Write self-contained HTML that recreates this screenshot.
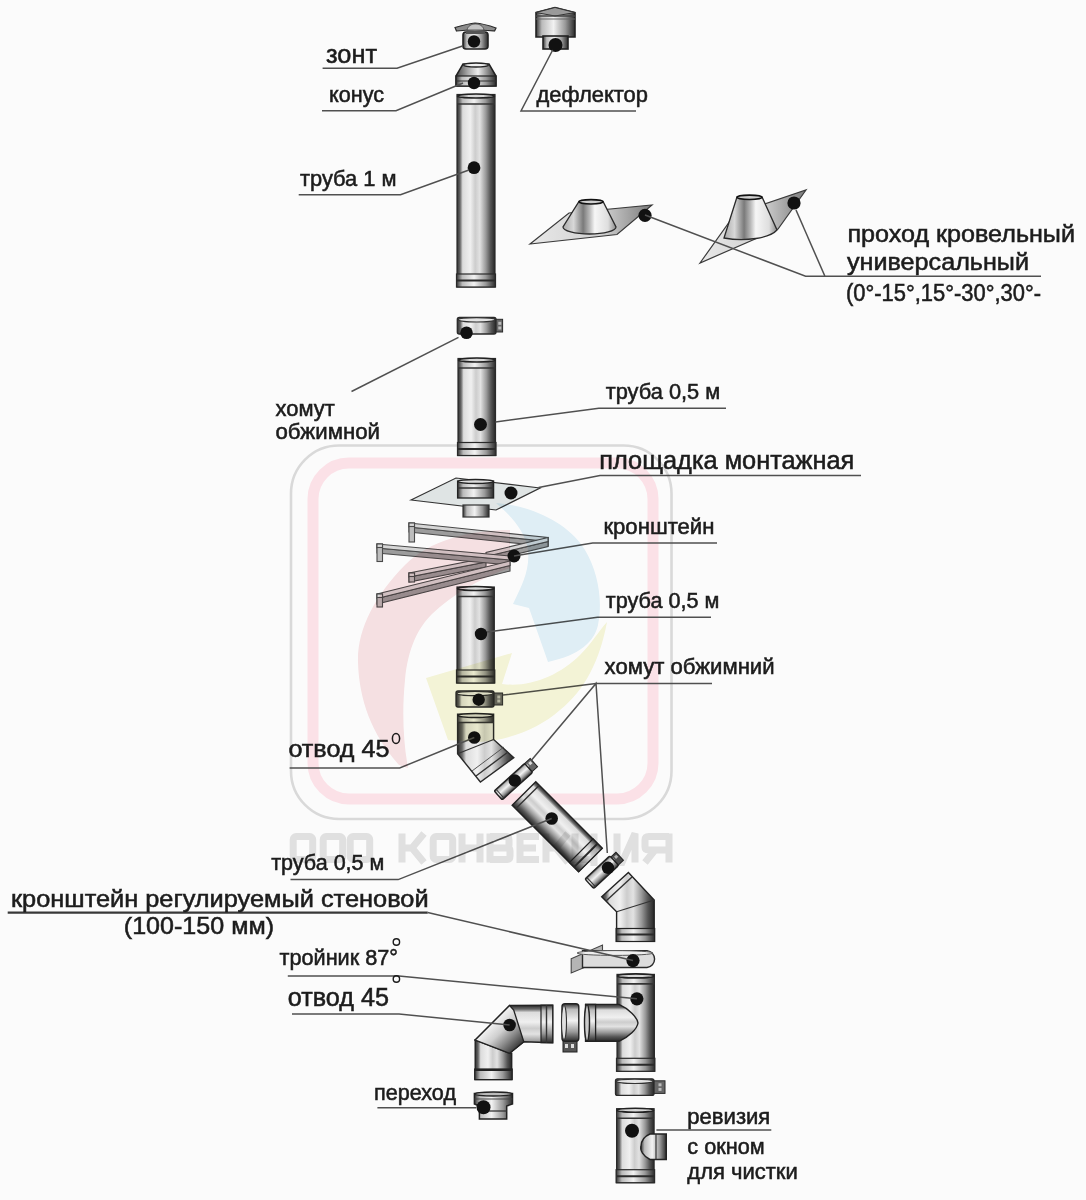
<!DOCTYPE html>
<html><head><meta charset="utf-8"><style>
html,body{margin:0;padding:0;background:#fbfbfb;}
svg{display:block;font-family:"Liberation Sans",sans-serif;}
</style></head><body>
<svg width="1086" height="1200" viewBox="0 0 1086 1200">
<defs>
<linearGradient id="mv" x1="0" x2="1" y1="0" y2="0">
<stop offset="0" stop-color="#2e2e2e"/><stop offset="0.08" stop-color="#666"/>
<stop offset="0.15" stop-color="#dcdcdc"/><stop offset="0.35" stop-color="#f0f0f0"/>
<stop offset="0.48" stop-color="#cdcdcd"/><stop offset="0.6" stop-color="#e2e2e2"/>
<stop offset="0.76" stop-color="#999"/><stop offset="0.88" stop-color="#555"/>
<stop offset="1" stop-color="#262626"/></linearGradient>
<linearGradient id="mv2" x1="0" x2="1" y1="0" y2="0">
<stop offset="0" stop-color="#333"/><stop offset="0.15" stop-color="#bbb"/>
<stop offset="0.45" stop-color="#f2f2f2"/><stop offset="0.75" stop-color="#999"/>
<stop offset="1" stop-color="#2a2a2a"/></linearGradient>
<linearGradient id="mh" x1="0" x2="0" y1="0" y2="1">
<stop offset="0" stop-color="#2e2e2e"/><stop offset="0.08" stop-color="#666"/>
<stop offset="0.15" stop-color="#dcdcdc"/><stop offset="0.35" stop-color="#f0f0f0"/>
<stop offset="0.48" stop-color="#cdcdcd"/><stop offset="0.6" stop-color="#e2e2e2"/>
<stop offset="0.76" stop-color="#999"/><stop offset="0.88" stop-color="#555"/>
<stop offset="1" stop-color="#262626"/></linearGradient>
<linearGradient id="mh2" x1="0" x2="0" y1="0" y2="1">
<stop offset="0" stop-color="#333"/><stop offset="0.15" stop-color="#bbb"/>
<stop offset="0.45" stop-color="#f2f2f2"/><stop offset="0.75" stop-color="#999"/>
<stop offset="1" stop-color="#2a2a2a"/></linearGradient>
<linearGradient id="md" x1="0.1" y1="0.1" x2="0.9" y2="0.9">
<stop offset="0" stop-color="#3a3a3a"/><stop offset="0.12" stop-color="#bbb"/>
<stop offset="0.35" stop-color="#eee"/><stop offset="0.55" stop-color="#cfcfcf"/>
<stop offset="0.75" stop-color="#8a8a8a"/><stop offset="1" stop-color="#2e2e2e"/></linearGradient>
<linearGradient id="cone" x1="0" x2="1" y1="0" y2="0">
<stop offset="0" stop-color="#aaa"/><stop offset="0.2" stop-color="#d8d8d8"/>
<stop offset="0.38" stop-color="#7a7a7a"/><stop offset="0.5" stop-color="#b8b8b8"/>
<stop offset="0.6" stop-color="#f6f6f6"/><stop offset="0.85" stop-color="#dedede"/>
<stop offset="1" stop-color="#8a8a8a"/></linearGradient>
<linearGradient id="cone2" x1="0" x2="1" y1="0" y2="0">
<stop offset="0" stop-color="#444"/><stop offset="0.3" stop-color="#aaa"/>
<stop offset="0.55" stop-color="#eee"/><stop offset="0.8" stop-color="#888"/>
<stop offset="1" stop-color="#333"/></linearGradient>
<linearGradient id="plate" x1="0" x2="1" y1="0" y2="0">
<stop offset="0" stop-color="#e8e8e8"/><stop offset="0.6" stop-color="#d0d0d0"/>
<stop offset="1" stop-color="#7a7a7a"/></linearGradient>
</defs>
<rect width="1086" height="1200" fill="#fbfbfb"/>

<rect x="291" y="445.5" width="380.5" height="373.5" rx="48" fill="none" stroke="#d9d9d9" stroke-width="2.6"/>
<rect x="313" y="463" width="340" height="336" rx="36" fill="none" stroke="#fbe1e7" stroke-width="11"/>
<rect x="463" y="32" width="25" height="17" rx="3" fill="url(#mv2)" stroke="#222" stroke-width="1.6"/>
<path d="M455,27.5 C462,25.5 469,23.5 475,23 C481,23.5 489,25.5 496,28 L494.5,31 C488,30.5 482,30 475,30 C468,30 461,30.5 456.5,31 Z" fill="#8c8c8c" stroke="#2a2a2a" stroke-width="1.2"/>
<path d="M467,30 C468,26 471,24 475.5,24 C480,24 483,26 484,30 Z" fill="#c4c4c4" stroke="#444" stroke-width="0.8"/>
<rect x="466" y="31" width="19" height="3" fill="#555"/>
<circle cx="474" cy="41.5" r="6.2" fill="#111"/>
<path d="M463,64 L489,64 L496,76 L496,86 L456,86 L456,76 Z" fill="url(#cone2)" stroke="#222" stroke-width="1.5"/>
<ellipse cx="476" cy="65" rx="12.5" ry="2" fill="#f0f0f0" stroke="#222" stroke-width="1.3"/>
<rect x="456" y="76" width="40" height="10" fill="url(#mv2)" stroke="#222" stroke-width="1.2"/>
<line x1="456" y1="81" x2="496" y2="81" stroke="#333" stroke-width="1.2"/>
<circle cx="474" cy="83" r="6.2" fill="#111"/>
<rect x="457" y="94.5" width="38" height="192.5" fill="url(#mv)" stroke="#2a2a2a" stroke-width="1.2"/>
<rect x="457" y="97.5" width="38" height="6" fill="url(#mv2)"/>
<ellipse cx="476.0" cy="96.0" rx="18.5" ry="2" fill="#d8d8d8" stroke="#222" stroke-width="1.6"/>
<line x1="457" y1="104.0" x2="495" y2="104.0" stroke="#333" stroke-width="1.6"/>
<rect x="456.5" y="274" width="39" height="13" fill="url(#mv2)" stroke="#2a2a2a" stroke-width="1.2"/>
<line x1="457" y1="280.5" x2="495" y2="280.5" stroke="#2a2a2a" stroke-width="2"/>
<circle cx="474" cy="167.7" r="6.4" fill="#111"/>
<path d="M536,12.5 L555,7.5 L575,12.5 L575,37 L536,37 Z" fill="url(#mv2)" stroke="#222" stroke-width="1.6"/>
<path d="M536,12.5 L555,7.5 L575,12.5 L555,16 Z" fill="#9a9a9a" stroke="#333" stroke-width="1"/>
<line x1="536" y1="16" x2="575" y2="16" stroke="#444" stroke-width="1.4"/>
<line x1="536" y1="19" x2="575" y2="19" stroke="#666" stroke-width="1"/>
<rect x="543" y="36" width="25" height="13" fill="url(#mv2)" stroke="#222" stroke-width="1.6"/>
<circle cx="555.5" cy="45" r="7" fill="#111"/>
<polygon points="530,244 569,213 652,205 617,234.5" fill="url(#plate)" stroke="#3a3a3a" stroke-width="1.2"/>
<path d="M579,201.5 L603,201.5 L616,227 A26.5,7 0 0 1 563,227 Z" fill="url(#cone)" stroke="#2a2a2a" stroke-width="1.3"/>
<ellipse cx="591" cy="201.8" rx="12" ry="2.2" fill="#d0d0d0" stroke="#111" stroke-width="1.6"/>
<circle cx="645" cy="215.3" r="6.6" fill="#111"/>
<polygon points="700,263 735,214 806,190 778,229" fill="url(#plate)" stroke="#3a3a3a" stroke-width="1.2"/>
<path d="M737,197 L762,197 L777,230 C770,238 745,242 724,238 Z" fill="url(#cone)" stroke="#2a2a2a" stroke-width="1.3"/>
<ellipse cx="749.5" cy="197.3" rx="12.5" ry="2.2" fill="#d0d0d0" stroke="#111" stroke-width="1.6"/>
<circle cx="794" cy="203" r="6.6" fill="#111"/>
<rect x="494" y="319.3" width="8.600000000000023" height="12.699999999999989" fill="#666" stroke="#2a2a2a" stroke-width="1"/>
<rect x="498.3" y="321.8" width="3" height="3" fill="#bbb"/>
<rect x="498.3" y="326.5" width="3" height="3" fill="#bbb"/>
<rect x="457.3" y="317.3" width="38.69999999999999" height="16.69999999999999" rx="2" fill="url(#mv)" stroke="#2a2a2a" stroke-width="1.3"/>
<ellipse cx="476.65" cy="319.8" rx="18.349999999999994" ry="2.2" fill="#e4e4e4" stroke="#333" stroke-width="1.2"/>
<circle cx="466.5" cy="332.8" r="6.3" fill="#111"/>
<rect x="458" y="358.5" width="37.5" height="97.0" fill="url(#mv)" stroke="#2a2a2a" stroke-width="1.2"/>
<rect x="458" y="361.5" width="37.5" height="6" fill="url(#mv2)"/>
<ellipse cx="476.75" cy="360.0" rx="18.25" ry="2" fill="#d8d8d8" stroke="#222" stroke-width="1.6"/>
<line x1="458" y1="368.0" x2="495.5" y2="368.0" stroke="#333" stroke-width="1.6"/>
<rect x="457.5" y="442.5" width="38.5" height="13" fill="url(#mv2)" stroke="#2a2a2a" stroke-width="1.2"/>
<line x1="458" y1="449.0" x2="495.5" y2="449.0" stroke="#2a2a2a" stroke-width="2"/>
<circle cx="480.5" cy="424.5" r="6.5" fill="#111"/>
<polygon points="411,500 456,478 540,488 496,510" fill="#dfe4e4" stroke="#333" stroke-width="1.2"/>
<rect x="463" y="505" width="26" height="12" fill="url(#mv2)" stroke="#333" stroke-width="1.2"/>
<rect x="457.6" y="481" width="36" height="17" fill="url(#mv2)" stroke="#222" stroke-width="1.3"/>
<ellipse cx="475.6" cy="481.5" rx="17.5" ry="2" fill="#ddd" stroke="#222" stroke-width="1.3"/>
<line x1="457.6" y1="488" x2="493.6" y2="488" stroke="#333" stroke-width="1.5"/>
<circle cx="511" cy="493" r="6.5" fill="#111"/>
<polygon points="409.0,527.0 548.0,541.5 548.0,546.5 409.0,532.0" fill="#9c9c9c" stroke="#4a4a4a" stroke-width="1.1"/>
<polygon points="409.0,523.0 548.0,537.5 548.0,541.5 409.0,527.0" fill="#d6d6d6" stroke="#4a4a4a" stroke-width="1.1"/>
<polygon points="548,537.5 548,545.5 544,546 544,538" fill="#888" stroke="#4a4a4a" stroke-width="1.1"/>
<polygon points="548.0,541.5 486.0,556.5 486.0,561.5 548.0,546.5" fill="#9c9c9c" stroke="#4a4a4a" stroke-width="1.1"/>
<polygon points="548.0,537.5 486.0,552.5 486.0,556.5 548.0,541.5" fill="#d6d6d6" stroke="#4a4a4a" stroke-width="1.1"/>
<rect x="409" y="523" width="5.5" height="19" fill="#bdbdbd" stroke="#4a4a4a" stroke-width="1.1"/>
<rect x="409" y="523" width="5.5" height="3.5" fill="#d8d8d8" stroke="#4a4a4a" stroke-width="1.1"/>
<polygon points="409.0,577.0 486.0,562.0 486.0,567.0 409.0,582.0" fill="#9c9c9c" stroke="#4a4a4a" stroke-width="1.1"/>
<polygon points="409.0,573.0 486.0,558.0 486.0,562.0 409.0,577.0" fill="#d6d6d6" stroke="#4a4a4a" stroke-width="1.1"/>
<rect x="409" y="573" width="5.5" height="9" fill="#bdbdbd" stroke="#4a4a4a" stroke-width="1.1"/>
<rect x="409" y="573" width="5.5" height="3.5" fill="#d8d8d8" stroke="#4a4a4a" stroke-width="1.1"/>
<polygon points="377.0,548.0 510.0,560.0 510.0,565.0 377.0,553.0" fill="#9c9c9c" stroke="#4a4a4a" stroke-width="1.1"/>
<polygon points="377.0,544.0 510.0,556.0 510.0,560.0 377.0,548.0" fill="#d6d6d6" stroke="#4a4a4a" stroke-width="1.1"/>
<rect x="377" y="544" width="5.5" height="17.5" fill="#bdbdbd" stroke="#4a4a4a" stroke-width="1.1"/>
<rect x="377" y="544" width="5.5" height="3.5" fill="#d8d8d8" stroke="#4a4a4a" stroke-width="1.1"/>
<polygon points="377.0,598.5 510.0,565.5 510.0,571.0 377.0,604.0" fill="#9c9c9c" stroke="#4a4a4a" stroke-width="1.1"/>
<polygon points="377.0,594.0 510.0,561.0 510.0,565.5 377.0,598.5" fill="#d6d6d6" stroke="#4a4a4a" stroke-width="1.1"/>
<rect x="377" y="594" width="5.5" height="13" fill="#bdbdbd" stroke="#4a4a4a" stroke-width="1.1"/>
<rect x="377" y="594" width="5.5" height="3.5" fill="#d8d8d8" stroke="#4a4a4a" stroke-width="1.1"/>
<circle cx="514" cy="556" r="6.5" fill="#111"/>
<rect x="457" y="587" width="37.30000000000001" height="96" fill="url(#mv)" stroke="#2a2a2a" stroke-width="1.2"/>
<rect x="457" y="590" width="37.30000000000001" height="6" fill="url(#mv2)"/>
<ellipse cx="475.65" cy="588.5" rx="18.150000000000006" ry="2" fill="#d8d8d8" stroke="#222" stroke-width="1.6"/>
<line x1="457" y1="596.5" x2="494.3" y2="596.5" stroke="#333" stroke-width="1.6"/>
<rect x="456.5" y="670" width="38.30000000000001" height="13" fill="url(#mv2)" stroke="#2a2a2a" stroke-width="1.2"/>
<line x1="457" y1="676.5" x2="494.3" y2="676.5" stroke="#2a2a2a" stroke-width="2"/>
<circle cx="481" cy="634" r="6.2" fill="#111"/>
<rect x="492" y="693" width="10.600000000000023" height="12" fill="#666" stroke="#2a2a2a" stroke-width="1"/>
<rect x="497.3" y="695.5" width="3" height="3" fill="#bbb"/>
<rect x="497.3" y="699.5" width="3" height="3" fill="#bbb"/>
<rect x="456" y="691" width="38" height="16" rx="2" fill="url(#mv)" stroke="#2a2a2a" stroke-width="1.3"/>
<ellipse cx="475.0" cy="693.5" rx="18.0" ry="2.2" fill="#e4e4e4" stroke="#333" stroke-width="1.2"/>
<circle cx="478.7" cy="699.7" r="6.2" fill="#111"/>
<path d="M457.6,714.2 L493.6,714.2 L493.6,739.5 L513.8,757.7 L480.4,782 L457.6,753.7 Z" fill="url(#mv)" stroke="#2a2a2a" stroke-width="1.4"/>
<rect x="457.6" y="716" width="36" height="6" fill="url(#mv2)"/>
<ellipse cx="475.6" cy="715.5" rx="17.5" ry="2" fill="#d8d8d8" stroke="#222" stroke-width="1.5"/>
<line x1="457.6" y1="722.5" x2="493.6" y2="722.5" stroke="#333" stroke-width="1.4"/>
<line x1="457.6" y1="753.7" x2="493.6" y2="739.5" stroke="#333" stroke-width="1.2"/>
<line x1="476" y1="776" x2="508" y2="752" stroke="#333" stroke-width="1.4"/>
<line x1="472" y1="771" x2="504" y2="747" stroke="#555" stroke-width="1"/>
<circle cx="474.3" cy="737.5" r="6.3" fill="#111"/>
<g transform="translate(513.4,781.7) rotate(-42)"><rect x="17" y="-6" width="11" height="11" fill="#666" stroke="#222" stroke-width="1"/><rect x="19" y="-4" width="3" height="3" fill="#ddd"/><rect x="23.5" y="-4" width="3" height="3" fill="#ddd"/><rect x="-20.5" y="-6" width="41" height="12" rx="1.5" fill="url(#mh2)" stroke="#222" stroke-width="1.4"/><line x1="-18" y1="-6" x2="-18" y2="6" stroke="#333" stroke-width="1"/></g>
<circle cx="514.8" cy="780.5" r="6.2" fill="#111"/>
<g transform="translate(557.2,826.7) rotate(45)"><rect x="-47" y="-16.7" width="94" height="33.4" fill="url(#mh)" stroke="#222" stroke-width="1.4"/><line x1="-42" y1="-16.7" x2="-42" y2="16.7" stroke="#333" stroke-width="1.4"/><rect x="34" y="-16.7" width="13" height="33.4" fill="url(#mh2)" stroke="#222" stroke-width="1.2"/><line x1="40.5" y1="-16.7" x2="40.5" y2="16.7" stroke="#2a2a2a" stroke-width="2"/></g>
<circle cx="551.7" cy="818.5" r="6.3" fill="#111"/>
<g transform="translate(601.8,872.2) rotate(-43)"><rect x="13" y="-5" width="11" height="11" fill="#555" stroke="#222" stroke-width="1"/><rect x="15" y="-3" width="3" height="3" fill="#ccc"/><rect x="19.5" y="-3" width="3" height="3" fill="#ccc"/><rect x="-17" y="-6.5" width="34" height="13" rx="1.5" fill="url(#mh2)" stroke="#222" stroke-width="1.4"/><line x1="-14.5" y1="-6.5" x2="-14.5" y2="6.5" stroke="#333" stroke-width="1"/></g>
<circle cx="608" cy="867.8" r="6.2" fill="#111"/>
<path d="M601.7,896.8 L628.4,872.5 L654.2,900 L654.2,941.4 L616.6,941.4 L616.6,911.7 Z" fill="url(#mv)" stroke="#222" stroke-width="1.4"/>
<line x1="616.6" y1="911.7" x2="654.2" y2="900" stroke="#333" stroke-width="1.2"/>
<line x1="606" y1="901" x2="632" y2="877" stroke="#333" stroke-width="1.4"/>
<rect x="616.1" y="928.5" width="38.6" height="13" fill="url(#mv2)" stroke="#222" stroke-width="1.2"/>
<line x1="616.6" y1="934.5" x2="654.2" y2="934.5" stroke="#2a2a2a" stroke-width="1.8"/>
<polygon points="571.2,958.7 602.5,945 602.5,960 571.2,973" fill="#b4b4b4" stroke="#444" stroke-width="1.1"/>
<path d="M582.5,950.6 L647,950.6 A8.5,8.5 0 0 1 647,967.5 L582.5,967.5 Z" fill="#dcdcdc" stroke="#2a2a2a" stroke-width="1.4"/>
<ellipse cx="615" cy="953" rx="38" ry="2.4" fill="#eee" stroke="#555" stroke-width="1"/>
<circle cx="633" cy="960.6" r="6.6" fill="#111"/>
<rect x="617" y="974.4" width="37.39999999999998" height="96.89999999999998" fill="url(#mv)" stroke="#2a2a2a" stroke-width="1.2"/>
<rect x="617" y="977.4" width="37.39999999999998" height="6" fill="url(#mv2)"/>
<ellipse cx="635.7" cy="975.9" rx="18.19999999999999" ry="2" fill="#d8d8d8" stroke="#222" stroke-width="1.6"/>
<line x1="617" y1="983.9" x2="654.4" y2="983.9" stroke="#333" stroke-width="1.6"/>
<rect x="616.5" y="1058.3" width="38.39999999999998" height="13" fill="url(#mv2)" stroke="#2a2a2a" stroke-width="1.2"/>
<line x1="617" y1="1064.8" x2="654.4" y2="1064.8" stroke="#2a2a2a" stroke-width="2"/>
<path d="M585.6,1004.4 L619,1004.4 C629,1009 637,1017 638,1023 C637,1029 629,1037 619,1041.3 L585.6,1041.3 Z" fill="url(#mh)" stroke="#222" stroke-width="1.4"/>
<rect x="585.6" y="1004.4" width="10" height="36.9" fill="url(#mh2)" stroke="#222" stroke-width="1.3"/>
<ellipse cx="587" cy="1022.8" rx="2.5" ry="18" fill="#ccc" stroke="#222" stroke-width="1.4"/>
<circle cx="636.9" cy="998.8" r="6.6" fill="#111"/>
<rect x="563" y="1040" width="14" height="12" fill="#555" stroke="#222" stroke-width="1"/>
<rect x="565" y="1044" width="3" height="4" fill="#ddd"/><rect x="571" y="1044" width="3" height="4" fill="#ddd"/>
<rect x="562" y="1003.8" width="16.8" height="37.5" rx="3" fill="url(#mh2)" stroke="#222" stroke-width="1.4"/>
<ellipse cx="564" cy="1022.5" rx="2.5" ry="17" fill="#e0e0e0" stroke="#333" stroke-width="1.1"/>
<path d="M509.6,1005.5 L552.7,1005.2 L552.7,1042.7 L523.8,1041.7 L509.6,1053.3 L475.2,1040 Z" fill="url(#mh)" stroke="#222" stroke-width="1.4"/>
<path d="M475.2,1040 L509.6,1053.3 L511.7,1053.3 L511.7,1079.6 L475.2,1079.6 Z" fill="url(#mv)" stroke="#222" stroke-width="1.4"/>
<path d="M509.6,1005.5 L513.7,1010 L523.8,1041.7 L509.6,1053.3 L475.2,1040 Z" fill="url(#md)" stroke="#222" stroke-width="1.3"/>
<rect x="541" y="1005.2" width="11.7" height="37.5" fill="url(#mh2)" stroke="#222" stroke-width="1.2"/>
<line x1="546.5" y1="1005.2" x2="546.5" y2="1042.7" stroke="#333" stroke-width="1.4"/>
<rect x="474.7" y="1069" width="37.5" height="10.6" fill="url(#mv2)" stroke="#222" stroke-width="1.2"/>
<line x1="475" y1="1070" x2="511.7" y2="1070" stroke="#222" stroke-width="1.8"/>
<circle cx="509.6" cy="1025" r="6.3" fill="#111"/>
<rect x="652" y="1080.8" width="13" height="12.600000000000136" fill="#666" stroke="#2a2a2a" stroke-width="1"/>
<rect x="658.5" y="1083.3" width="3" height="3" fill="#bbb"/>
<rect x="658.5" y="1087.9" width="3" height="3" fill="#bbb"/>
<rect x="615.5" y="1078.8" width="38.5" height="16.600000000000136" rx="2" fill="url(#mv)" stroke="#2a2a2a" stroke-width="1.3"/>
<ellipse cx="634.75" cy="1081.3" rx="18.25" ry="2.2" fill="#e4e4e4" stroke="#333" stroke-width="1.2"/>
<path d="M474.4,1093.5 L512.5,1093.5 L512.5,1104 L506.7,1106 L506.7,1119 L479.4,1119 L479.4,1106 L474.4,1104 Z" fill="url(#mv2)" stroke="#222" stroke-width="1.5"/>
<ellipse cx="493.4" cy="1094" rx="18.5" ry="2" fill="#bbb" stroke="#222" stroke-width="1.3"/>
<line x1="474.4" y1="1099" x2="512.5" y2="1099" stroke="#444" stroke-width="1.2"/>
<line x1="479.4" y1="1111" x2="506.7" y2="1111" stroke="#333" stroke-width="1.3"/>
<circle cx="483.5" cy="1107.3" r="7" fill="#111"/>
<rect x="616.6" y="1108.7" width="37.5" height="74.0" fill="url(#mv)" stroke="#2a2a2a" stroke-width="1.2"/>
<rect x="616.6" y="1111.7" width="37.5" height="6" fill="url(#mv2)"/>
<ellipse cx="635.35" cy="1110.2" rx="18.25" ry="2" fill="#d8d8d8" stroke="#222" stroke-width="1.6"/>
<line x1="616.6" y1="1118.2" x2="654.1" y2="1118.2" stroke="#333" stroke-width="1.6"/>
<rect x="616.1" y="1169.7" width="38.5" height="13" fill="url(#mv2)" stroke="#2a2a2a" stroke-width="1.2"/>
<line x1="616.6" y1="1176.2" x2="654.1" y2="1176.2" stroke="#2a2a2a" stroke-width="2"/>
<path d="M650,1134 L666.3,1134 L666.3,1159.5 L650,1159.5 C643,1156 640,1150 640.9,1146.7 C641,1140 645,1136 650,1134 Z" fill="url(#mv2)" stroke="#222" stroke-width="1.4"/>
<line x1="656" y1="1134" x2="656" y2="1159.5" stroke="#333" stroke-width="1.2"/>
<circle cx="632" cy="1130.8" r="7" fill="#111"/>
<polyline points="322.6,68.3 397,68.3 462.5,46" fill="none" stroke="#505050" stroke-width="1.5"/>
<polyline points="322,110.8 396,110.8 463,83" fill="none" stroke="#505050" stroke-width="1.5"/>
<polyline points="552.7,50 521,111 636,111" fill="none" stroke="#505050" stroke-width="1.5"/>
<polyline points="298.7,194.7 400.5,194.7 469,170" fill="none" stroke="#505050" stroke-width="1.5"/>
<polyline points="645,215 805.6,276.3 1041,276.3" fill="none" stroke="#505050" stroke-width="1.5"/>
<polyline points="796,210 824.8,276" fill="none" stroke="#505050" stroke-width="1.5"/>
<polyline points="458.5,337.4 351.5,391.5" fill="none" stroke="#505050" stroke-width="1.5"/>
<polyline points="495.5,422 598.8,408.3 726,408.3" fill="none" stroke="#505050" stroke-width="1.5"/>
<polyline points="538.6,487.6 600,475.5 861,475.5" fill="none" stroke="#505050" stroke-width="1.5"/>
<polyline points="514,556 592.7,543 717,543" fill="none" stroke="#505050" stroke-width="1.5"/>
<polyline points="487,632 597.5,617.3 711,617.3" fill="none" stroke="#505050" stroke-width="1.5"/>
<polyline points="503,695 596,683.5 712,683.5" fill="none" stroke="#505050" stroke-width="1.5"/>
<polyline points="531,760.8 596,683.5 607.3,853" fill="none" stroke="#505050" stroke-width="1.5"/>
<polyline points="289.6,768 399.7,768 474.3,737.5" fill="none" stroke="#505050" stroke-width="1.5"/>
<polyline points="290.5,879.6 398.2,879.6 551.7,818.5" fill="none" stroke="#505050" stroke-width="1.5"/>
<polyline points="7.7,912.6 427.7,912.6" fill="none" stroke="#383838" stroke-width="2.3"/>
<polyline points="427.7,912.6 633,960.6" fill="none" stroke="#505050" stroke-width="1.5"/>
<polyline points="287.8,976 399,976 636.9,998.8" fill="none" stroke="#505050" stroke-width="1.5"/>
<polyline points="292,1014 399,1014 509.6,1025" fill="none" stroke="#505050" stroke-width="1.5"/>
<polyline points="377.4,1107.8 476,1107.8" fill="none" stroke="#505050" stroke-width="1.5"/>
<polyline points="656.4,1130 771.3,1130" fill="none" stroke="#505050" stroke-width="1.5"/>
<text x="326" y="62.5" font-size="25" textLength="51" lengthAdjust="spacingAndGlyphs" fill="#1c1c1c" stroke="#1c1c1c" stroke-width="0.55">зонт</text>
<text x="329" y="101.8" font-size="22" textLength="55" lengthAdjust="spacingAndGlyphs" fill="#1c1c1c" stroke="#1c1c1c" stroke-width="0.55">конус</text>
<text x="536.5" y="102" font-size="22" textLength="111.5" lengthAdjust="spacingAndGlyphs" fill="#1c1c1c" stroke="#1c1c1c" stroke-width="0.55">дефлектор</text>
<text x="300" y="185.7" font-size="22" textLength="96.6" lengthAdjust="spacingAndGlyphs" fill="#1c1c1c" stroke="#1c1c1c" stroke-width="0.55">труба 1 м</text>
<text x="847.4" y="242" font-size="24" textLength="227.6" lengthAdjust="spacingAndGlyphs" fill="#1c1c1c" stroke="#1c1c1c" stroke-width="0.55">проход кровельный</text>
<text x="847" y="269.7" font-size="24" textLength="182" lengthAdjust="spacingAndGlyphs" fill="#1c1c1c" stroke="#1c1c1c" stroke-width="0.55">универсальный</text>
<text x="846" y="301.3" font-size="23" textLength="195" lengthAdjust="spacingAndGlyphs" fill="#1c1c1c" stroke="#1c1c1c" stroke-width="0.55">(0°-15°,15°-30°,30°-</text>
<text x="275.5" y="416" font-size="22" textLength="59.2" lengthAdjust="spacingAndGlyphs" fill="#1c1c1c" stroke="#1c1c1c" stroke-width="0.55">хомут</text>
<text x="275.5" y="439" font-size="22" textLength="104.5" lengthAdjust="spacingAndGlyphs" fill="#1c1c1c" stroke="#1c1c1c" stroke-width="0.55">обжимной</text>
<text x="605.7" y="398.7" font-size="22" textLength="114.6" lengthAdjust="spacingAndGlyphs" fill="#1c1c1c" stroke="#1c1c1c" stroke-width="0.55">труба 0,5 м</text>
<text x="599.3" y="469.4" font-size="25" textLength="255" lengthAdjust="spacingAndGlyphs" fill="#1c1c1c" stroke="#1c1c1c" stroke-width="0.55">площадка монтажная</text>
<text x="603.4" y="533.5" font-size="22" textLength="111" lengthAdjust="spacingAndGlyphs" fill="#1c1c1c" stroke="#1c1c1c" stroke-width="0.55">кронштейн</text>
<text x="605.8" y="607.7" font-size="22" textLength="113.7" lengthAdjust="spacingAndGlyphs" fill="#1c1c1c" stroke="#1c1c1c" stroke-width="0.55">труба 0,5 м</text>
<text x="604.6" y="673.6" font-size="22" textLength="170" lengthAdjust="spacingAndGlyphs" fill="#1c1c1c" stroke="#1c1c1c" stroke-width="0.55">хомут обжимний</text>
<text x="288.4" y="757" font-size="24" textLength="101" lengthAdjust="spacingAndGlyphs" fill="#1c1c1c" stroke="#1c1c1c" stroke-width="0.55">отвод 45</text>
<ellipse cx="396" cy="738.5" rx="3.6" ry="5" fill="none" stroke="#1c1c1c" stroke-width="1.5"/>
<text x="271.2" y="870.4" font-size="22" textLength="113.2" lengthAdjust="spacingAndGlyphs" fill="#1c1c1c" stroke="#1c1c1c" stroke-width="0.55">труба 0,5 м</text>
<text x="11" y="907.3" font-size="24" textLength="417.6" lengthAdjust="spacingAndGlyphs" fill="#1c1c1c" stroke="#1c1c1c" stroke-width="0.55">кронштейн регулируемый стеновой</text>
<text x="123.8" y="934" font-size="24" textLength="150.2" lengthAdjust="spacingAndGlyphs" fill="#1c1c1c" stroke="#1c1c1c" stroke-width="0.55">(100-150 мм)</text>
<text x="279.5" y="965.2" font-size="22" textLength="118.5" lengthAdjust="spacingAndGlyphs" fill="#1c1c1c" stroke="#1c1c1c" stroke-width="0.55">тройник 87°</text>
<circle cx="396.4" cy="942" r="3.2" fill="none" stroke="#1c1c1c" stroke-width="1.4"/>
<text x="287.8" y="1006" font-size="25" textLength="101.2" lengthAdjust="spacingAndGlyphs" fill="#1c1c1c" stroke="#1c1c1c" stroke-width="0.55">отвод 45</text>
<circle cx="396.4" cy="979" r="3.2" fill="none" stroke="#1c1c1c" stroke-width="1.4"/>
<text x="374" y="1099.8" font-size="22" textLength="82" lengthAdjust="spacingAndGlyphs" fill="#1c1c1c" stroke="#1c1c1c" stroke-width="0.55">переход</text>
<text x="687.3" y="1124" font-size="22" textLength="83" lengthAdjust="spacingAndGlyphs" fill="#1c1c1c" stroke="#1c1c1c" stroke-width="0.55">ревизия</text>
<text x="687.3" y="1154" font-size="22" textLength="77.3" lengthAdjust="spacingAndGlyphs" fill="#1c1c1c" stroke="#1c1c1c" stroke-width="0.55">с окном</text>
<text x="687.3" y="1179.4" font-size="22" textLength="110.5" lengthAdjust="spacingAndGlyphs" fill="#1c1c1c" stroke="#1c1c1c" stroke-width="0.55">для чистки</text>
<g style="mix-blend-mode:multiply" opacity="1"><path d="M510,530 C470,530 430,540 405,565 C375,595 357,630 358,662 C359,700 372,735 399,765 L408,768 C403,740 402,710 405,680 C408,648 418,628 432,614 C452,595 480,578 510,568 Z" fill="#f9e4e6"/><path d="M496,503 C535,506 570,525 585,550 C598,572 603,600 598,625 C594,642 580,655 548,662 L529,608 L513,604 C522,585 530,570 528,550 C525,530 510,515 496,503 Z" fill="#e3f2f9"/><path d="M607,622 C600,660 585,690 560,710 C540,728 510,740 480,742 L448,740 L426,678 L512,653 L502,684 C530,688 560,675 580,655 C592,643 598,632 607,622 Z" fill="#f7f7da"/></g>
<g style="mix-blend-mode:multiply"><rect x="293.2" y="836.5" width="19.5" height="23" rx="3" fill="none" stroke="#e4e4e4" stroke-width="7" stroke-linejoin="miter"/><rect x="323.2" y="836.5" width="19.5" height="23" rx="3" fill="none" stroke="#e4e4e4" stroke-width="7" stroke-linejoin="miter"/><rect x="350.2" y="836.5" width="19.5" height="23" rx="3" fill="none" stroke="#e4e4e4" stroke-width="7" stroke-linejoin="miter"/><path d="M402,833.5 V862.5 M402,848 L412,848 L424,833.5 M412,848 L424,862.5" fill="none" stroke="#e4e4e4" stroke-width="7" stroke-linejoin="miter"/><rect x="433.2" y="836.5" width="19.5" height="23" rx="3" fill="none" stroke="#e4e4e4" stroke-width="7" stroke-linejoin="miter"/><path d="M462,833.5 V862.5 M480,833.5 V862.5 M462,848 H480" fill="none" stroke="#e4e4e4" stroke-width="7" stroke-linejoin="miter"/><path d="M490,836.5 H506 Q509,836.5 509,840 V845 Q509,848 506,848 H490 M490,848 H507 Q510,848 510,851 V856 Q510,859.5 507,859.5 H490 M490,833.5 V862.5" fill="none" stroke="#e4e4e4" stroke-width="7" stroke-linejoin="miter"/><path d="M539,836.5 H520 V859.5 H539 M520,848 H536" fill="none" stroke="#e4e4e4" stroke-width="7" stroke-linejoin="miter"/><path d="M546,833.5 V862.5 M546,848 L556,848 L568,833.5 M556,848 L568,862.5" fill="none" stroke="#e4e4e4" stroke-width="7" stroke-linejoin="miter"/><path d="M575,833.5 V859.5 H597 M594,833.5 V866" fill="none" stroke="#e4e4e4" stroke-width="7" stroke-linejoin="miter"/><path d="M617,833.5 V862.5 H622 L635,833.5 V862.5" fill="none" stroke="#e4e4e4" stroke-width="7" stroke-linejoin="miter"/><path d="M669,833.5 V862.5 M669,836.5 H649 Q645,836.5 645,840 V847 Q645,850 649,850 H669 M655,850 L645,862.5" fill="none" stroke="#e4e4e4" stroke-width="7" stroke-linejoin="miter"/></g>
</svg></body></html>
